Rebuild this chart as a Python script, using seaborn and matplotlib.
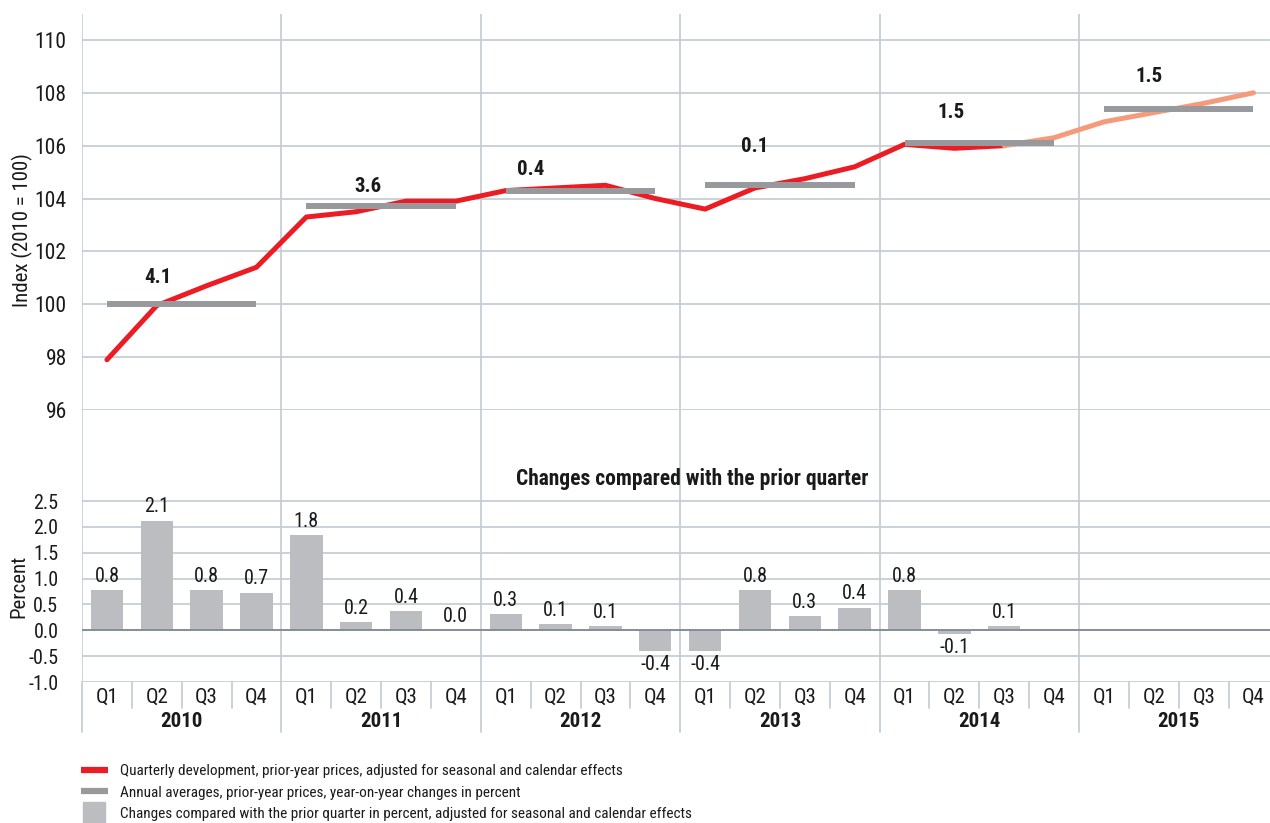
import numpy as np
import pandas as pd
import matplotlib
matplotlib.use("Agg")
import matplotlib.pyplot as plt
from matplotlib.lines import Line2D
from matplotlib import font_manager
import seaborn as sns

# Data
years = [2010, 2011, 2012, 2013, 2014, 2015]
quarters = ["Q1", "Q2", "Q3", "Q4"]

# quarterly index, prior-year prices, adjusted (2010 = 100)
index_values = [97.9, 99.95, 100.7, 101.4,
                103.3, 103.5, 103.9, 103.9,
                104.3, 104.4, 104.5, 104.0,
                103.6, 104.4, 104.75, 105.2,
                106.05, 105.9, 106.0, 106.3,
                106.9, 107.25, 107.6, 108.0]
last_actual = 18  # 2014 Q3, later points are the forecast

annual_avg = [100.0, 103.7, 104.3, 104.5, 106.1, 107.4]
annual_change = ["4.1", "3.6", "0.4", "0.1", "1.5", "1.5"]

# changes compared with the prior quarter, percent
qoq_change = [0.78, 2.12, 0.78, 0.73,
              1.84, 0.16, 0.37, 0.0,
              0.32, 0.12, 0.08, -0.40,
              -0.40, 0.77, 0.28, 0.44,
              0.77, -0.07, 0.08, np.nan,
              np.nan, np.nan, np.nan, np.nan]

# where the bold annual labels sit (x in quarter units, y above the average)
label_x = [1.02, 5.23, 8.5, 13.0, 16.93, 20.9]
label_dy = [1.0, 0.75, 0.8, 1.45, 1.14, 1.2]

RED = "#ec1c24"
SALMON = "#f59b7b"
AVG_GRAY = "#98999c"
BAR_GRAY = "#bcbdc1"
GRID = "#c5ced7"
ZERO = "#7f8a94"
TXT = "#1a1a1a"

sns.set_theme(style="white")
# pick a narrow face if one is installed
installed = {f.name for f in font_manager.fontManager.ttflist}
narrow = [n for n in ["Roboto Condensed", "Liberation Sans Narrow", "Liberation Sans"]
          if n in installed]
plt.rcParams["font.family"] = narrow[:1] + ["DejaVu Sans"]
plt.rcParams["font.stretch"] = "condensed"
plt.rcParams["axes.unicode_minus"] = False
plt.rcParams["text.color"] = TXT

pos = np.arange(len(index_values))
df = pd.DataFrame({"pos": pos, "index": index_values, "qoq": qoq_change})
actual = df[df["pos"] <= last_actual]
forecast = df[df["pos"] >= last_actual]

rows = []
for i, (yr, avg) in enumerate(zip(years, annual_avg)):
    rows.append({"year": yr, "pos": 4 * i, "avg": avg})
    rows.append({"year": yr, "pos": 4 * i + 3, "avg": avg})
df_avg = pd.DataFrame(rows)

W, H = 1270, 823
fig = plt.figure(figsize=(W / 100, H / 100), dpi=100)
ax1 = fig.add_axes([82 / W, 1 - 410 / H, (W - 82) / W, 396 / H])
ax2 = fig.add_axes([82 / W, 1 - 682 / H, (W - 82) / W, 272 / H])
xlim = (-0.5, -0.5 + (W - 82) / 49.85)

year_bounds = [4 * i - 0.5 for i in range(len(years) + 1)]
quarter_bounds = [b + 0.5 for b in range(len(pos)) if (b + 1) % 4 != 0]

# top panel: index
sns.lineplot(data=actual, x="pos", y="index", color=RED, lw=3.6,
             solid_joinstyle="round", ax=ax1, zorder=2)
sns.lineplot(data=forecast, x="pos", y="index", color=SALMON, lw=3.6,
             solid_joinstyle="round", ax=ax1, zorder=2)
sns.lineplot(data=df_avg, x="pos", y="avg", units="year", estimator=None,
             color=AVG_GRAY, lw=4.3, solid_capstyle="butt", ax=ax1, zorder=3)
for lx, dy, avg, lab in zip(label_x, label_dy, annual_avg, annual_change):
    ax1.text(lx, avg + dy, lab, ha="center", va="center",
             fontsize=15, fontweight="bold", zorder=4)

ax1.set_xlim(xlim)
ax1.set_ylim(96, 110.98)
ax1.set_yticks(np.arange(96, 111, 2))
ax1.set_xticks([])
ax1.set_xticks(quarter_bounds, minor=True)
ax1.tick_params(axis="x", which="minor", direction="out", length=7,
                width=1.2, color=GRID, bottom=True, labelbottom=False)
ax1.tick_params(axis="y", length=0, pad=11, labelsize=15.5, labelcolor=TXT)
ax1.yaxis.grid(True, color=GRID, lw=1.3)
ax1.set_xlabel("")
ax1.set_ylabel("Index (2010 = 100)", fontsize=15, color=TXT)
ax1.yaxis.set_label_coords(-0.041, 0.4545)

# bottom panel: quarter-on-quarter changes
bars = df.dropna(subset=["qoq"])
sns.barplot(data=bars, x="pos", y="qoq", native_scale=True, color=BAR_GRAY,
            saturation=1, width=0.65, errorbar=None, linewidth=0, ax=ax2,
            zorder=2)
ax2.bar_label(ax2.containers[0], labels=[f"{v:.1f}" for v in bars["qoq"]],
              padding=3, fontsize=14.5, color=TXT)
ax2.axhline(0, color=ZERO, lw=1.3, zorder=3)

ax2.set_xlim(xlim)
ax2.set_ylim(-1.0, 4.26)
ax2.set_yticks(np.arange(-1.0, 2.51, 0.5))
ax2.set_yticklabels([f"{v:.1f}" for v in np.arange(-1.0, 2.51, 0.5)])
ax2.set_xticks(pos)
ax2.set_xticklabels(quarters * len(years))
ax2.tick_params(axis="x", length=0, pad=4, labelsize=15, labelcolor=TXT)
ax2.tick_params(axis="y", length=0, pad=17, labelsize=14.5, labelcolor=TXT)
ax2.yaxis.grid(True, color=GRID, lw=1.3)
ax2.set_xlabel("")
ax2.set_ylabel("Percent", fontsize=15, color=TXT)
ax2.yaxis.set_label_coords(-0.045, 0.353)

for ax in (ax1, ax2):
    for s in ax.spines.values():
        s.set_visible(False)
    for b in year_bounds:
        ax.axvline(b, color=GRID, lw=1.3, zorder=1)

# separators under the quarter labels
xt = ax2.get_xaxis_transform()
for b in year_bounds + [year_bounds[-1] + 4]:
    ax2.plot([b, b], [0, -0.184], transform=xt, clip_on=False, color=GRID, lw=1.3)
for b in quarter_bounds:
    ax2.plot([b, b], [0, -0.096], transform=xt, clip_on=False, color=GRID, lw=1.3)
for i, yr in enumerate(years):
    ax2.text(4 * i + 1.5, -0.147, str(yr), transform=xt, ha="center",
             va="center", fontsize=15, fontweight="bold")

fig.text(692 / W, 1 - 479 / H, "Changes compared with the prior quarter",
         ha="center", va="center", fontsize=15.5, fontweight="bold")

handles = [
    Line2D([], [], color=RED, lw=4.5, solid_capstyle="butt"),
    Line2D([], [], color=AVG_GRAY, lw=4.5, solid_capstyle="butt"),
    Line2D([], [], color=BAR_GRAY, marker="s", markersize=16, linestyle="none"),
]
labels = [
    "Quarterly development, prior-year prices, adjusted for seasonal and calendar effects",
    "Annual averages, prior-year prices, year-on-year changes in percent",
    "Changes compared with the prior quarter in percent, adjusted for seasonal and calendar effects",
]
fig.legend(handles, labels, loc="upper left", bbox_to_anchor=(81 / W, 1 - 764 / H),
           frameon=False, fontsize=11, handlelength=1.75, handletextpad=0.8,
           labelspacing=0.5, borderpad=0, borderaxespad=0)

fig.savefig("out.png", dpi=100)
